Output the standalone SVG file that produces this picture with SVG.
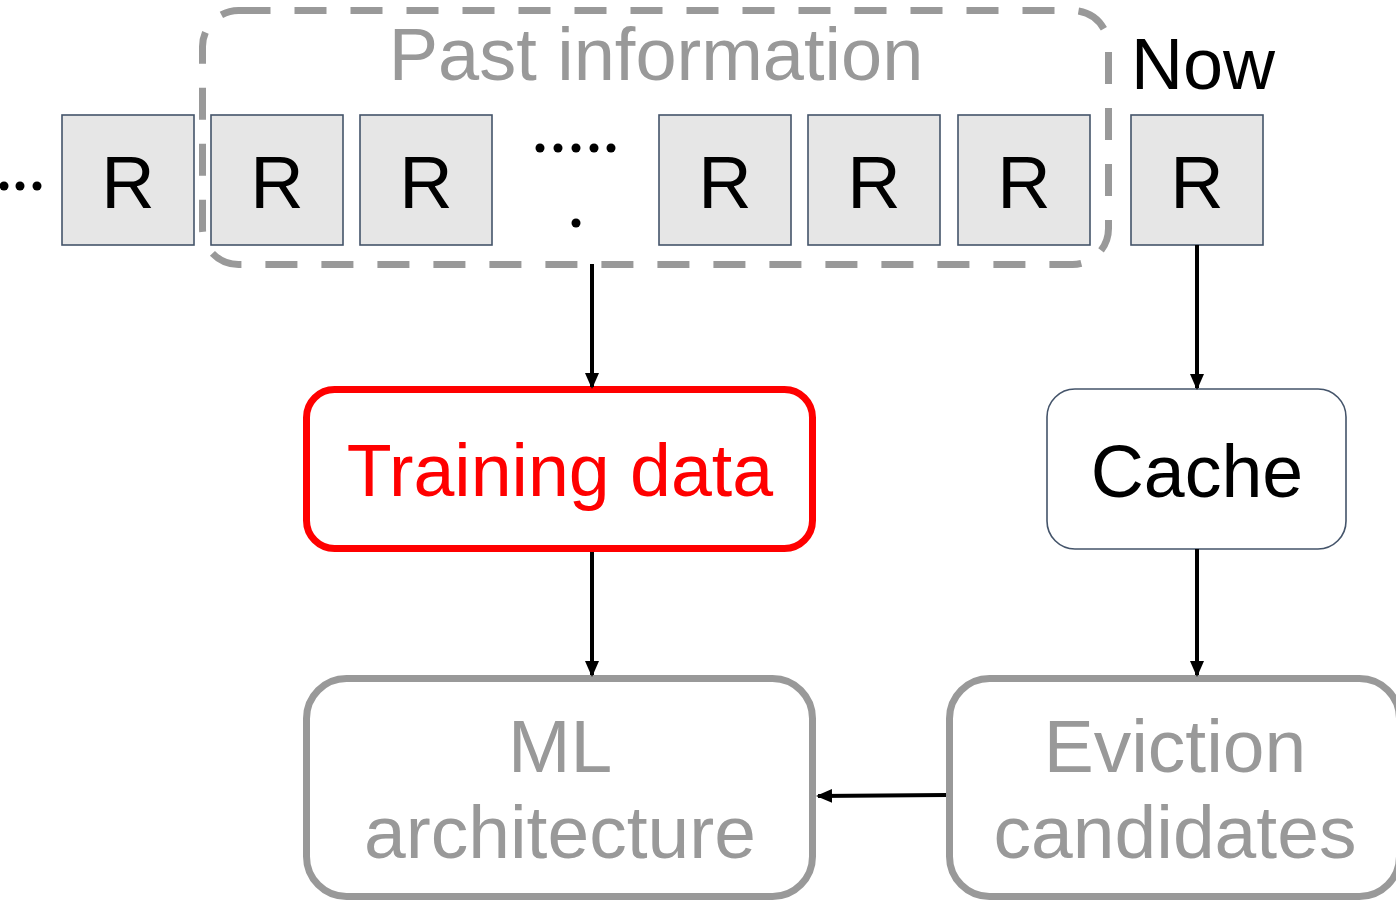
<svg xmlns="http://www.w3.org/2000/svg" width="1396" height="902" viewBox="0 0 1396 902">
<defs>
<style>
.t{font-family:"Liberation Sans",Arial,sans-serif;font-size:72px;text-anchor:middle}
.big{font-size:75px}
.mid{font-size:73.5px}
.r rect{fill:#e6e6e6;stroke:#44546a;stroke-width:1.6}
.r text{fill:#000;font-size:74px}
.gray{fill:none;stroke:#999;stroke-width:7}
.conn line{stroke:#000;stroke-width:4}
</style>
<marker id="ah" markerUnits="userSpaceOnUse" markerWidth="16" markerHeight="16" refX="14" refY="8" orient="auto">
<path d="M0,1 L16,8 L0,15 Z" fill="#000"/>
</marker>
</defs>
<rect width="1396" height="902" fill="#fff"/>

<g id="past">
<rect x="202.5" y="10.5" width="906" height="254" rx="36" fill="none" stroke="#999" stroke-width="7" stroke-dasharray="32 24"/>
<text class="t" x="656" y="80" fill="#999" style="font-size:74px">Past information</text>
</g>
<g id="now-label"><text class="t" x="1203" y="89" fill="#000">Now</text></g>

<g id="dots-left" fill="#000">
<circle cx="4" cy="186" r="4.5"/><circle cx="20" cy="186" r="4.5"/><circle cx="37" cy="186" r="4.5"/>
</g>
<g id="dots-mid" fill="#000">
<circle cx="540" cy="148" r="4.5"/><circle cx="558" cy="148" r="4.5"/><circle cx="576" cy="148" r="4.5"/><circle cx="594" cy="148" r="4.5"/><circle cx="611" cy="148" r="4.5"/>
<circle cx="576" cy="223" r="4.5"/>
</g>

<g id="r1" class="r"><rect x="62" y="115" width="132" height="130"/><text class="t" x="128" y="208">R</text></g>
<g id="r2" class="r"><rect x="211" y="115" width="132" height="130"/><text class="t" x="277" y="208">R</text></g>
<g id="r3" class="r"><rect x="360" y="115" width="132" height="130"/><text class="t" x="426" y="208">R</text></g>
<g id="r4" class="r"><rect x="659" y="115" width="132" height="130"/><text class="t" x="725" y="208">R</text></g>
<g id="r5" class="r"><rect x="808" y="115" width="132" height="130"/><text class="t" x="874" y="208">R</text></g>
<g id="r6" class="r"><rect x="958" y="115" width="132" height="130"/><text class="t" x="1024" y="208">R</text></g>
<g id="r7" class="r"><rect x="1131" y="115" width="132" height="130"/><text class="t" x="1197" y="208">R</text></g>

<g id="training">
<rect x="306.5" y="389.5" width="506" height="159" rx="28" fill="#fff" stroke="#ff0000" stroke-width="7"/>
<text class="t mid" x="560" y="496" fill="#ff0000">Training data</text>
</g>
<g id="cache">
<rect x="1047" y="389" width="299" height="160" rx="28" fill="#fff" stroke="#44546a" stroke-width="1.6"/>
<text class="t mid" x="1197" y="497" fill="#000">Cache</text>
</g>
<g id="ml">
<rect class="gray" x="306.5" y="678.5" width="506" height="218" rx="40"/>
<text class="t big" x="560" y="772" fill="#999">ML</text>
<text class="t big" x="560" y="858" fill="#999">architecture</text>
</g>
<g id="eviction">
<rect class="gray" x="949.5" y="678.5" width="450" height="218" rx="40"/>
<text class="t big" x="1175" y="772" fill="#999">Eviction</text>
<text class="t big" x="1175" y="858" fill="#999">candidates</text>
</g>

<g id="connectors" class="conn">
<line x1="592" y1="264" x2="592" y2="387" marker-end="url(#ah)"/>
<line x1="592" y1="552" x2="592" y2="675" marker-end="url(#ah)"/>
<line x1="1197" y1="245" x2="1197" y2="388" marker-end="url(#ah)"/>
<line x1="1197" y1="549" x2="1197" y2="675" marker-end="url(#ah)"/>
<line x1="946" y1="795" x2="818" y2="796" marker-end="url(#ah)"/>
</g>
</svg>
